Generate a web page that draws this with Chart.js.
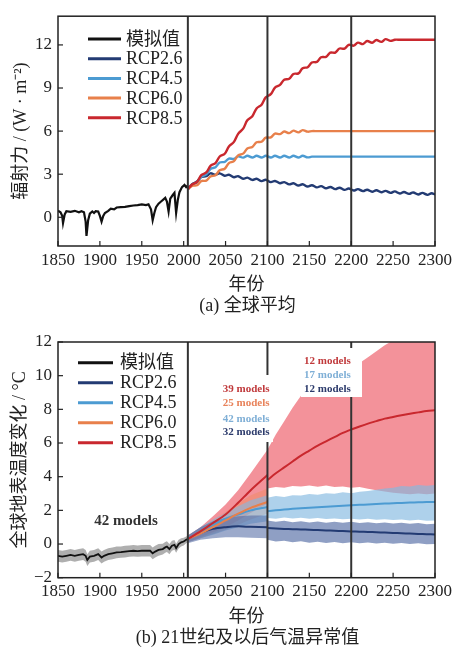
<!DOCTYPE html>
<html><head><meta charset="utf-8">
<script src="https://cdn.jsdelivr.net/npm/chart.js@4/dist/chart.umd.min.js"></script>
<style>
html,body{margin:0;padding:0;background:#fff;}
body{width:456px;height:650px;position:relative;overflow:hidden;}
.wrap{position:absolute;left:0;width:456px;}
.cap{position:absolute;left:58px;width:379px;text-align:center;font:18px "Liberation Serif","Noto Sans CJK SC",serif;color:#222;line-height:22px;white-space:nowrap;}
</style></head>
<body>
<div class="wrap" style="top:0;height:320px"><canvas id="ca"></canvas></div>
<div class="wrap" style="top:320px;height:330px"><canvas id="cb"></canvas></div>
<div class="cap" style="top:294px">(a) 全球平均</div>
<div class="cap" style="top:626px">(b) 21世纪及以后气温异常值</div>
<script>
// ---------- data ----------
const SERIES_NAMES = ['模拟值','RCP2.6','RCP4.5','RCP6.0','RCP8.5'];
const SERIES_COLORS = ['#111111','#233B73','#4C9BD2','#E8804B','#C9282E'];
const X_TICKS = [1850,1900,1950,2000,2050,2100,2150,2200,2250,2300];
const Y_TICKS_A = [0,3,6,9,12];
const Y_TICKS_B = [-2,0,2,4,6,8,10,12];
const PERIOD_LINES = [2005,2100,2200];

// (a) radiative forcing
const HIST_YEARS_A = [1850,1853,1855,1856,1858,1860,1865,1870,1875,1878,1881,1883,1884,1886,1888,1891,1893,1895,1898,1900,1902,1904,1906,1910,1913,1917,1920,1925,1930,1935,1940,1945,1950,1955,1958,1961,1963,1965,1967,1970,1973,1976,1978,1980,1982,1984,1987,1989,1991,1993,1995,1998,2001,2003,2005];
const HIST_FORCING = [0.45,0.35,0.1,-0.4,0.2,0.42,0.38,0.45,0.35,0.42,0.35,-0.3,-1.3,-0.2,0.25,0.4,0.3,0.42,0.4,0.1,-0.3,0.1,0.3,0.45,0.6,0.55,0.68,0.7,0.72,0.78,0.82,0.85,0.9,0.85,0.9,0.55,-0.2,0.3,0.7,0.95,1.1,1.25,1.35,1.1,0.4,1.3,1.55,1.7,0.3,1.2,1.75,2.1,2.25,2.1,2.2];
const FUT_YEARS = [2005,2010,2016,2021,2027,2032,2038,2043,2049,2054,2060,2065,2071,2076,2082,2087,2093,2098,2104,2109,2115,2120,2126,2131,2137,2142,2148,2153,2159,2164,2170,2175,2181,2186,2192,2197,2203,2208,2214,2219,2225,2230,2236,2241,2247,2252,2258,2263,2269,2274,2280,2285,2291,2296,2300];
const RCP26_F = [1.95,2.31,2.49,2.81,2.86,3.06,2.96,3.06,2.89,2.96,2.79,2.86,2.68,2.76,2.60,2.68,2.52,2.61,2.45,2.53,2.37,2.45,2.29,2.37,2.21,2.30,2.14,2.23,2.08,2.17,2.02,2.11,1.96,2.06,1.91,2.00,1.86,1.96,1.82,1.92,1.78,1.88,1.74,1.84,1.70,1.80,1.66,1.76,1.63,1.73,1.59,1.70,1.56,1.67,1.58];
const RCP45_F = [1.95,2.26,2.44,2.81,2.99,3.36,3.49,3.81,3.86,4.09,4.06,4.24,4.15,4.28,4.16,4.28,4.16,4.28,4.16,4.28,4.16,4.28,4.16,4.28,4.16,4.28,4.17,4.22,4.22,4.22,4.22,4.22,4.22,4.22,4.22,4.22,4.22,4.22,4.22,4.22,4.22,4.22,4.22,4.22,4.22,4.22,4.22,4.22,4.22,4.22,4.22,4.22,4.22,4.22,4.22];
const RCP60_F = [1.95,2.19,2.23,2.52,2.55,2.84,2.93,3.27,3.38,3.77,3.91,4.31,4.43,4.79,4.90,5.22,5.26,5.54,5.56,5.83,5.79,5.97,5.86,6.03,5.91,6.07,5.96,6.0,6.0,6.0,6.0,6.0,6.0,6.0,6.0,6.0,6.0,6.0,6.0,6.0,6.0,6.0,6.0,6.0,6.0,6.0,6.0,6.0,6.0,6.0,6.0,6.0,6.0,6.0,6.0];
const RCP85_F = [1.95,2.28,2.47,2.93,3.12,3.58,3.77,4.23,4.42,4.93,5.25,5.81,6.17,6.75,7.04,7.58,7.84,8.35,8.57,9.03,9.22,9.58,9.64,9.98,10.02,10.38,10.45,10.78,10.82,11.14,11.17,11.46,11.47,11.75,11.74,12.01,11.95,12.16,12.06,12.27,12.15,12.34,12.21,12.40,12.28,12.36,12.36,12.36,12.36,12.36,12.36,12.36,12.36,12.36,12.36];

// (b) temperature anomaly
const HIST_YEARS_B = [1850,1855,1860,1865,1870,1875,1880,1883,1885,1888,1893,1898,1902,1905,1910,1915,1920,1925,1930,1935,1940,1945,1950,1955,1960,1963,1966,1970,1975,1978,1980,1983,1986,1989,1991,1994,1997,2000,2003,2005];
const HIST_T    = [-0.7,-0.75,-0.7,-0.65,-0.7,-0.65,-0.6,-0.7,-0.95,-0.75,-0.7,-0.6,-0.8,-0.7,-0.6,-0.55,-0.5,-0.48,-0.45,-0.42,-0.4,-0.42,-0.4,-0.4,-0.4,-0.55,-0.45,-0.35,-0.3,-0.2,-0.15,-0.3,-0.1,-0.05,-0.25,0.0,0.1,0.15,0.25,0.3];
const HIST_T_LO = [-1.05,-1.1,-1.05,-1.0,-1.05,-1.0,-0.95,-1.05,-1.3,-1.1,-1.05,-0.95,-1.15,-1.05,-0.95,-0.9,-0.85,-0.82,-0.8,-0.76,-0.74,-0.76,-0.74,-0.74,-0.74,-0.9,-0.8,-0.7,-0.62,-0.52,-0.47,-0.6,-0.4,-0.34,-0.52,-0.26,-0.15,-0.08,0.05,0.1];
const HIST_T_HI = [-0.35,-0.4,-0.35,-0.3,-0.35,-0.3,-0.25,-0.35,-0.6,-0.4,-0.35,-0.25,-0.45,-0.35,-0.25,-0.2,-0.15,-0.14,-0.1,-0.08,-0.06,-0.08,-0.06,-0.06,-0.06,-0.2,-0.1,0.0,0.02,0.12,0.17,0.0,0.2,0.24,0.02,0.26,0.35,0.38,0.45,0.5];

const T_PRE_YEARS  = [2005,2020,2035,2050,2065,2080,2100];
const T85_PRE = [0.3,0.75,1.25,1.75,2.45,3.2,4.1];
const T60_PRE = [0.3,0.62,1.0,1.4,1.8,2.15,2.5];
const T45_PRE = [0.3,0.68,1.1,1.5,1.75,2.0,2.2];
const T26_PRE = [0.3,0.65,0.9,1.0,1.05,1.02,1.0];
const T85_PRE_LO = [0.1,0.4,0.7,1.0,1.4,1.85,2.4];
const T85_PRE_HI = [0.5,1.0,1.65,2.35,3.2,4.2,5.6];
const T60_PRE_LO = [0.1,0.35,0.6,0.85,1.15,1.45,1.8];
const T60_PRE_HI = [0.5,0.95,1.4,1.9,2.4,2.9,3.3];
const T45_PRE_LO = [0.1,0.35,0.55,0.8,1.0,1.2,1.35];
const T45_PRE_HI = [0.5,1.0,1.45,1.85,2.25,2.6,2.9];
const T26_PRE_LO = [0.05,0.25,0.35,0.4,0.4,0.38,0.35];
const T26_PRE_HI = [0.5,1.0,1.35,1.55,1.65,1.7,1.7];

const T_POST_YEARS = [2100,2110,2120,2130,2140,2150,2160,2170,2180,2190,2200,2210,2220,2230,2240,2250,2260,2270,2280,2290,2300];
const T85_POST = [3.8,4.2,4.55,4.9,5.25,5.55,5.85,6.1,6.35,6.6,6.8,6.98,7.15,7.3,7.45,7.55,7.65,7.74,7.82,7.9,7.95];
const T45_POST = [1.95,2.0,2.05,2.09,2.12,2.15,2.18,2.21,2.24,2.27,2.3,2.33,2.35,2.38,2.4,2.42,2.44,2.46,2.48,2.49,2.5];
const T26_POST = [0.95,0.92,0.9,0.88,0.87,0.85,0.83,0.81,0.79,0.77,0.75,0.73,0.72,0.7,0.68,0.66,0.64,0.62,0.6,0.58,0.57];
const T85_POST_LO = [3.3,3.38,3.35,3.45,3.42,3.48,3.4,3.47,3.38,3.42,3.35,3.38,3.28,3.2,3.12,3.05,3.0,2.95,3.0,2.95,3.0];
const T85_POST_HI = [5.6,6.5,7.3,8.1,8.8,9.2,9.5,9.75,10.0,10.25,10.45,10.75,11.1,11.45,11.8,12.1,12.4,12.6,12.9,13.0,13.2];
const T45_POST_LO = [1.55,1.5,1.58,1.52,1.56,1.5,1.55,1.48,1.52,1.47,1.5,1.45,1.5,1.44,1.47,1.42,1.46,1.4,1.44,1.38,1.4];
const T45_POST_HI = [2.75,2.85,2.8,2.9,2.88,2.97,2.92,3.02,2.98,3.08,3.02,3.1,3.15,3.22,3.3,3.35,3.45,3.42,3.5,3.46,3.5];
const T26_POST_LO = [0.25,0.15,0.2,0.1,0.16,0.08,0.14,0.06,0.12,0.05,0.1,0.04,0.09,0.03,0.08,0.02,0.06,0.0,0.05,-0.02,0.0];
const T26_POST_HI = [1.4,1.32,1.38,1.3,1.36,1.28,1.34,1.27,1.33,1.26,1.32,1.25,1.3,1.23,1.28,1.22,1.27,1.2,1.25,1.18,1.2];

const MODEL_LABELS_PRE  = ['39 models','25 models','42 models','32 models'];
const MODEL_COLORS_PRE  = ['#C0393B','#E8825A','#7FAFD6','#2B3A6B'];
const MODEL_LABELS_POST = ['12 models','17 models','12 models'];
const MODEL_COLORS_POST = ['#C0393B','#7FAFD6','#2B3A6B'];
const HIST_MODELS = '42 models';

// ---------- helpers ----------
const SERIF = '"Liberation Serif","Noto Sans CJK SC",serif';
const pts = (xs, ys) => xs.map((x, i) => ({x, y: ys[i]}));
function line(label, xs, ys, color, width, order, tension) {
  return {label, data: pts(xs, ys), borderColor: color, backgroundColor: color, borderWidth: width,
    pointRadius: 0, tension: tension, fill: false, order: order};
}
function band(xs, lo, hi, color, order, loIndex) {
  return [
    {label: '_lo', data: pts(xs, lo), borderWidth: 0, borderColor: 'rgba(0,0,0,0)', pointRadius: 0, fill: false, order: order, tension: 0},
    {label: '_hi', data: pts(xs, hi), borderWidth: 0, borderColor: 'rgba(0,0,0,0)', backgroundColor: color, pointRadius: 0, fill: {target: loIndex}, order: order, tension: 0}
  ];
}

const decor = {
  id: 'decor',
  afterDatasetsDraw(chart, args, o) {
    const {ctx, chartArea: a, scales: {x, y}} = chart;
    ctx.save();
    ctx.strokeStyle = '#333'; ctx.lineWidth = 2;
    for (const v of PERIOD_LINES) {
      const px = x.getPixelForValue(v);
      ctx.beginPath(); ctx.moveTo(px, a.top); ctx.lineTo(px, a.bottom); ctx.stroke();
    }
    ctx.strokeStyle = '#222'; ctx.lineWidth = 1.2;
    for (const t of x.ticks) {
      const px = x.getPixelForValue(t.value);
      ctx.beginPath(); ctx.moveTo(px, a.bottom); ctx.lineTo(px, a.bottom - 5); ctx.stroke();
    }
    for (const t of y.ticks) {
      const py = y.getPixelForValue(t.value);
      ctx.beginPath(); ctx.moveTo(a.left, py); ctx.lineTo(a.left + 5, py); ctx.stroke();
    }
    (o.boxes || []).forEach(b => { ctx.fillStyle = '#fff'; ctx.fillRect(b[0], b[1], b[2] - b[0], b[3] - b[1]); });
    (o.texts || []).forEach(t => {
      ctx.font = t.font; ctx.fillStyle = t.color; ctx.textAlign = t.align; ctx.textBaseline = 'middle';
      ctx.fillText(t.text, t.x, t.y);
    });
    ctx.strokeStyle = '#222'; ctx.lineWidth = 1.5;
    ctx.strokeRect(a.left, a.top, a.right - a.left, a.bottom - a.top);
    const L = o.legend;
    ctx.font = '18px ' + SERIF; ctx.textAlign = 'left'; ctx.textBaseline = 'middle';
    SERIES_NAMES.forEach((n, i) => {
      const yy = L.y0 + i * L.dy;
      ctx.strokeStyle = SERIES_COLORS[i]; ctx.lineWidth = 3;
      ctx.beginPath(); ctx.moveTo(L.x0, yy); ctx.lineTo(L.x1, yy); ctx.stroke();
      ctx.fillStyle = '#222'; ctx.fillText(n, L.tx, yy + 1);
    });
    ctx.restore();
  }
};

function axes(yMin, yMax, yTicks, yTitle, yTitleSize, yTitlePad, xTitlePad) {
  const tickFont = {family: SERIF, size: 17};
  return {
    x: {type: 'linear', min: 1850, max: 2300,
      afterBuildTicks: s => { s.ticks = X_TICKS.map(v => ({value: v})); },
      ticks: {font: tickFont, color: '#222', padding: 4, maxRotation: 0, autoSkip: false, callback: v => String(v)},
      grid: {display: false, drawTicks: false}, border: {display: false},
      title: {display: true, text: '年份', font: {family: SERIF, size: 18}, color: '#222', padding: {top: xTitlePad, bottom: 0}},
      afterFit: s => { s.height = 50; }},
    y: {type: 'linear', min: yMin, max: yMax,
      afterBuildTicks: s => { s.ticks = yTicks.map(v => ({value: v})); },
      ticks: {font: tickFont, color: '#222', padding: 6, callback: v => String(v).replace('-', '\u2212')},
      grid: {display: false, drawTicks: false}, border: {display: false},
      title: {display: true, text: yTitle, font: {family: SERIF, size: yTitleSize}, color: '#222', padding: {top: yTitlePad, bottom: 0}},
      afterFit: s => { s.width = 58; }}
  };
}

// ---------- chart (a) ----------
new Chart(document.getElementById('ca'), {
  type: 'line',
  data: {datasets: [
    line(SERIES_NAMES[0], HIST_YEARS_A, HIST_FORCING, SERIES_COLORS[0], 2.2, 0, 0),
    line(SERIES_NAMES[1], FUT_YEARS, RCP26_F, SERIES_COLORS[1], 2.4, 4, 0.35),
    line(SERIES_NAMES[2], FUT_YEARS, RCP45_F, SERIES_COLORS[2], 2.4, 3, 0.35),
    line(SERIES_NAMES[3], FUT_YEARS, RCP60_F, SERIES_COLORS[3], 2.4, 2, 0.35),
    line(SERIES_NAMES[4], FUT_YEARS, RCP85_F, SERIES_COLORS[4], 2.4, 1, 0.35)
  ]},
  options: {
    responsive: true, maintainAspectRatio: false, animation: false, devicePixelRatio: 1,
    layout: {padding: {top: 9, right: 19, bottom: 24, left: 0}},
    scales: axes(-2, 14, Y_TICKS_A, '辐射力 / (W · m⁻²)', 18, 10, 2),
    plugins: {legend: {display: false}, tooltip: {enabled: false},
      decor: {legend: {x0: 88, x1: 121, tx: 126, y0: 39, dy: 19.7}}}
  },
  plugins: [decor]
});

// ---------- chart (b) ----------
const dsB = [];
function addBand(xs, lo, hi, color, order) { const idx = dsB.length; dsB.push(...band(xs, lo, hi, color, order, idx)); }
addBand(T_PRE_YEARS, T85_PRE_LO, T85_PRE_HI, 'rgba(236,88,100,0.65)', 100);
addBand(T_POST_YEARS, T85_POST_LO, T85_POST_HI, 'rgba(236,88,100,0.65)', 100);
addBand(T_PRE_YEARS, T60_PRE_LO, T60_PRE_HI, 'rgba(240,140,100,0.5)', 90);
addBand(T_PRE_YEARS, T45_PRE_LO, T45_PRE_HI, 'rgba(130,185,225,0.6)', 80);
addBand(T_POST_YEARS, T45_POST_LO, T45_POST_HI, 'rgba(130,185,225,0.65)', 80);
addBand(T_PRE_YEARS, T26_PRE_LO, T26_PRE_HI, 'rgba(75,100,160,0.55)', 70);
addBand(T_POST_YEARS, T26_POST_LO, T26_POST_HI, 'rgba(75,100,160,0.62)', 70);
addBand(HIST_YEARS_B, HIST_T_LO, HIST_T_HI, 'rgba(110,110,110,0.55)', 60);
dsB.push(
  line(SERIES_NAMES[4], T_PRE_YEARS, T85_PRE, SERIES_COLORS[4], 2, 1, 0.3),
  line(SERIES_NAMES[4], T_POST_YEARS, T85_POST, SERIES_COLORS[4], 2, 1, 0.3),
  line(SERIES_NAMES[3], T_PRE_YEARS, T60_PRE, SERIES_COLORS[3], 2, 2, 0.3),
  line(SERIES_NAMES[2], T_PRE_YEARS, T45_PRE, SERIES_COLORS[2], 2, 3, 0.3),
  line(SERIES_NAMES[2], T_POST_YEARS, T45_POST, SERIES_COLORS[2], 2, 3, 0.3),
  line(SERIES_NAMES[1], T_PRE_YEARS, T26_PRE, SERIES_COLORS[1], 2, 4, 0.3),
  line(SERIES_NAMES[1], T_POST_YEARS, T26_POST, SERIES_COLORS[1], 2, 4, 0.3),
  line(SERIES_NAMES[0], HIST_YEARS_B, HIST_T, SERIES_COLORS[0], 1.8, 0, 0)
);

const textsB = [];
const preY = [69.3, 82.7, 98.7, 112];
MODEL_LABELS_PRE.forEach((t, i) => textsB.push({text: t, x: 269.5, y: preY[i], color: MODEL_COLORS_PRE[i], align: 'right', font: 'bold 11px ' + SERIF}));
const postY = [40.7, 54.7, 69];
MODEL_LABELS_POST.forEach((t, i) => textsB.push({text: t, x: 304, y: postY[i], color: MODEL_COLORS_POST[i], align: 'left', font: 'bold 11px ' + SERIF}));
textsB.push({text: HIST_MODELS, x: 126, y: 200.7, color: '#333', align: 'center', font: 'bold 15px ' + SERIF});

new Chart(document.getElementById('cb'), {
  type: 'line',
  data: {datasets: dsB},
  options: {
    responsive: true, maintainAspectRatio: false, animation: false, devicePixelRatio: 1,
    layout: {padding: {top: 22, right: 19, bottom: 22.3, left: 0}},
    scales: axes(-2, 12, Y_TICKS_B, '全球地表温度变化 / °C', 18, 9, 4),
    plugins: {legend: {display: false}, tooltip: {enabled: false},
      decor: {legend: {x0: 78, x1: 113, tx: 120, y0: 42.7, dy: 20},
        boxes: [[218, 55, 273, 122], [301, 28, 362, 77]], texts: textsB}}
  },
  plugins: [decor]
});
</script>
</body></html>
